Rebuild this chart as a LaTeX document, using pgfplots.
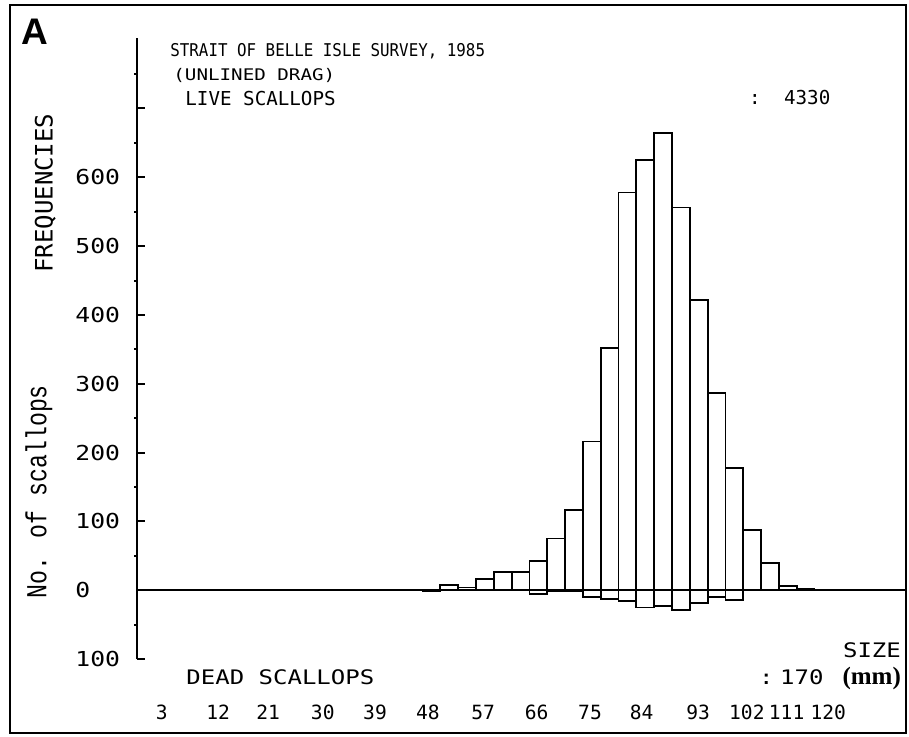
\documentclass[border=0pt]{standalone}
\usepackage{pgfplots}
\pgfplotsset{compat=1.18}
\usepackage{fontspec}
\setmainfont{DejaVu Sans Mono}
\newfontfamily\plotfont[FakeStretch=1.2]{DejaVu Sans Mono}
\newfontfamily\plotcond[FakeStretch=0.9]{DejaVu Sans Mono}
\newfontfamily\plainmono{DejaVu Sans Mono}
\newfontfamily\courcond[FakeStretch=0.8]{Liberation Mono}
\newfontfamily\seriffont{Liberation Serif}
\newfontfamily\boldsans{Liberation Sans}
\begin{document}
\begin{tikzpicture}
\begin{axis}[
  scale only axis,
  width=384pt, height=310.4pt,
  xmin=-0.87, xmax=128.42,
  ymin=-100, ymax=802,
  axis lines=left,
  axis line style={-, line width=1pt},
  x axis line style={draw=none},
  tick align=inside,
  major tick length=4pt,
  tick style={black, line width=1pt},
  xtick={3.3,12.8,21.2,30.4,39.2,48.1,57.4,66.4,75.4,84.1,93.6,101.8,108.5,115.5},
  xticklabels={3,12,21,30,39,48,57,66,75,84,93,102,111,120},
  x tick style={draw=none},
  xticklabel style={anchor=north, inner sep=0pt, yshift=-23pt, font=\plainmono\fontsize{9.8}{10}\selectfont},
  ytick={-100,0,100,200,300,400,500,600,700},
  yticklabels={100,0,100,200,300,400,500,600,{}},
  yticklabel style={anchor=west, inner sep=0pt, xshift=-31pt, font=\plotfont\fontsize{10.3}{11}\selectfont},
  extra y ticks={-50,50,150,...,750},
  extra y tick labels={},
  extra y tick style={tick align=outside, major tick length=1.5pt},
  clip=false,
  /pgf/number format/assume math mode=true,
]
% live scallops (left bin edge, count)
\addplot[ybar interval, draw=black, fill=none, line width=0.9pt] table {
x y
32.2 1
35.2 0
38.2 0
41.2 1
44.2 0
47.2 1
50.2 7
53.2 4
56.2 16
59.2 26
62.2 26
65.2 42
68.2 75
71.2 117
74.2 216
77.2 352
80.2 578
83.2 625
86.2 664
89.2 556
92.2 422
95.2 287
98.2 177
101.2 88
104.2 40
107.2 6
110.2 2
113.2 0
116.2 0
119.2 1
122.2 0
};
% dead scallops (drawn downward)
\addplot[ybar interval, draw=black, fill=none, line width=0.9pt] table {
x y
47.2 -2
50.2 0
53.2 0
56.2 0
59.2 0
62.2 0
65.2 -6
68.2 -1
71.2 -2
74.2 -10
77.2 -13
80.2 -16
83.2 -25
86.2 -23
89.2 -29
92.2 -19
95.2 -10
98.2 -14
101.2 0
};
\draw[line width=1.2pt] (axis cs:-0.87,0) -- (axis cs:128.42,0);
% texts
\node[anchor=base west, inner sep=0pt, font=\plotcond\fontsize{8.8}{9}\selectfont] at (axis cs:4.68,775) {STRAIT OF BELLE ISLE SURVEY, 1985};
\node[anchor=base west, inner sep=0pt, font=\plotfont\fontsize{8}{9}\selectfont] at (axis cs:5.19,741.3) {(UNLINED DRAG)};
\node[anchor=base west, inner sep=0pt, font=\plainmono\fontsize{9.6}{11}\selectfont] at (axis cs:7.21,705) {LIVE SCALLOPS};
\node[anchor=base west, inner sep=0pt, font=\plainmono\fontsize{9.6}{11}\selectfont] at (axis cs:102.1,706.4) {:};
\node[anchor=base west, inner sep=0pt, font=\plainmono\fontsize{9.6}{11}\selectfont] at (axis cs:108.0,706.4) {4330};
\node[anchor=base west, inner sep=0pt, font=\plotfont\fontsize{10}{11}\selectfont] at (axis cs:7.38,-136.6) {DEAD SCALLOPS};
\node[anchor=base west, inner sep=0pt, font=\plotfont\fontsize{10}{11}\selectfont] at (axis cs:103.8,-136.6) {:\,\,170};
\node[anchor=base east, inner sep=0pt, font=\plotfont\fontsize{10}{11}\selectfont] at (axis cs:127.8,-97.4) {SIZE};
\node[anchor=base east, inner sep=0pt, font=\seriffont\bfseries\fontsize{12.5}{13}\selectfont] at (axis cs:127.8,-137.0) {(mm)};
\node[rotate=90, inner sep=0pt, font=\plainmono\fontsize{12}{13}\selectfont] at (axis cs:-16.3,577) {FREQUENCIES};
\node[rotate=90, inner sep=0pt, font=\courcond\fontsize{14.5}{15}\selectfont] at (axis cs:-17.4,143) {No. of scallops};
\node[inner sep=0pt, font=\boldsans\bfseries\fontsize{18.5}{20}\selectfont] at (axis cs:-18.04,811.8) {A};
\draw[line width=1pt] (axis cs:-22.25,850.3) rectangle (axis cs:128.6,-207.8);
\coordinate (bbA) at (axis cs:-23.94,857.6);
\coordinate (bbB) at (axis cs:129.1,-212.2);
\end{axis}
\pgfresetboundingbox
\path[use as bounding box] (bbA) rectangle (bbB);
\end{tikzpicture}
\end{document}
